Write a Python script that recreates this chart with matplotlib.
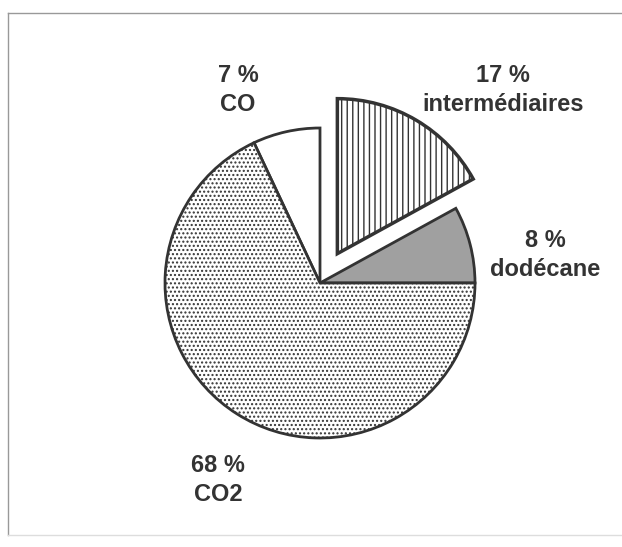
import matplotlib.pyplot as plt
from matplotlib.lines import Line2D

# -----------------------------
# DATA
# -----------------------------
labels = ["dodécane", "intermédiaires", "CO", "CO2"]
values = [8, 17, 7, 68]
explode = [0, 0.22, 0, 0]          # fraction of radius
colors = ["#a0a0a0", "white", "white", "white"]
hatches = ["", "|||", "", "...."]

# label placement (pixel coordinates, y upward)
label_pos = [(545, 292), (503, 457), (238, 457), (218, 67)]

plt.rcParams['font.family'] = ['Liberation Sans', 'DejaVu Sans']
plt.rcParams['hatch.linewidth'] = 1.0
plt.rcParams['hatch.color'] = "#777777"

RADIUS = 155

fig = plt.figure(figsize=(6.22, 5.47), dpi=100)
ax = fig.add_axes([0, 0, 1, 1])

# pie's explode offset is in data units, not in radius units
wedges, _ = ax.pie(values, explode=[e * RADIUS for e in explode], colors=colors,
                   startangle=0, counterclock=True, center=(320, 264), radius=RADIUS,
                   wedgeprops=dict(edgecolor="#333333", linewidth=2))
for w, h in zip(wedges, hatches):
    w.set_hatch(h)
wedges[1].set_linewidth(2.5)

# pie() resets the limits, so set them afterwards
ax.set_xlim(0, 622)
ax.set_ylim(0, 547)
ax.set_aspect('equal')
ax.axis('off')

for lab, v, (x, y) in zip(labels, values, label_pos):
    ax.text(x, y, f"{v} %\n{lab}", ha='center', va='center',
            fontsize=17, fontweight='bold', color="#333333", linespacing=1.3)

# outer frame
frame = dict(color="#999999", linewidth=1)
fig.add_artist(Line2D([8 / 622, 1.0], [1 - 13 / 547] * 2, transform=fig.transFigure, **frame))
fig.add_artist(Line2D([8 / 622] * 2, [1 - 13 / 547, 1 - 535 / 547], transform=fig.transFigure, **frame))
fig.add_artist(Line2D([8 / 622, 1.0], [1 - 535 / 547] * 2, transform=fig.transFigure,
                      color="#dddddd", linewidth=1))

fig.savefig("out.png", dpi=100)
